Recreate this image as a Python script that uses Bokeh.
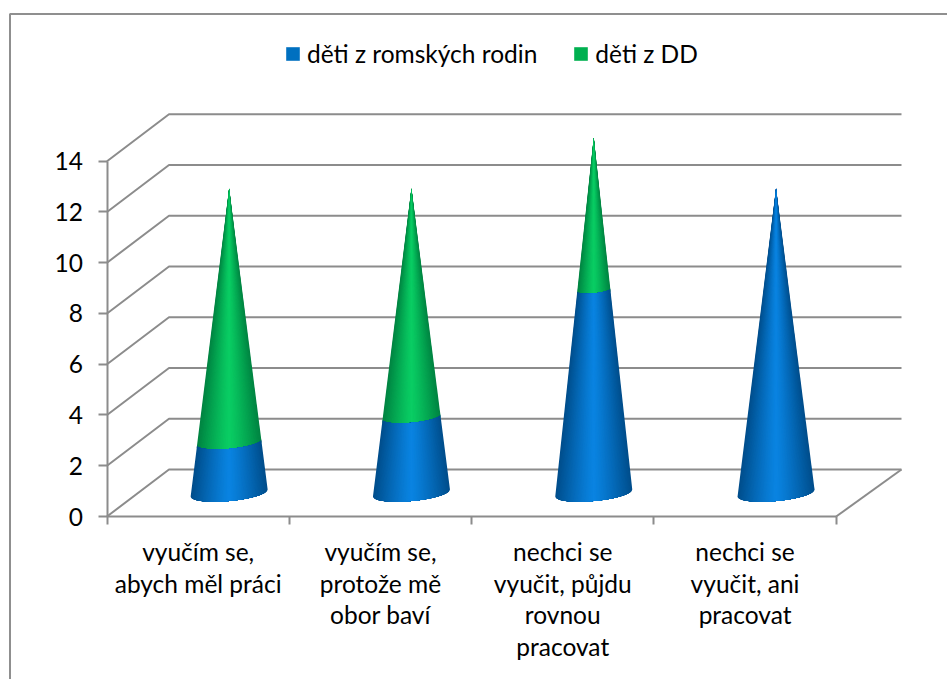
from bokeh.embed import file_html
from bokeh.models import ColumnDataSource, FixedTicker, Legend, LegendItem, LinearAxis, Range1d
from bokeh.plotting import figure
from bokeh.core.properties import value
from bokeh.resources import INLINE
import math

# Chart values
categories = [
    ["vyučím se,", "abych měl práci"],
    ["vyučím se,", "protože mě", "obor baví"],
    ["nechci se", "vyučit, půjdu", "rovnou", "pracovat"],
    ["nechci se", "vyučit, ani", "pracovat"],
]
romske = [2, 3, 8, 12]
dd = [10, 9, 6, 0]
series_names = ["děti z romských rodin", "děti z DD"]
y_ticks = [0, 2, 4, 6, 8, 10, 12, 14]

# Layout of the simulated 3D box, in page pixels
W, H = 947, 679
X0, Y0 = 106.5, 516.0      # front-left floor corner
PX_X, PX_Y = 182.3, 25.38  # pixels per category, pixels per unit of value
DEPTH_X, DEPTH_Y = 62.0, 47.0
WALL_END = 901.0
CONE_R = 38.5
CONE_B = 8.0               # vertical half-axis of the base ellipse
CONE_TILT = 0.09           # the base ellipse leans up to the right
LAYERS = 48                # nested shading layers per cone section
RIM_POINTS = 24

FONT = "Lato"
FONT_SIZE = "24.5px"
GRID = "#8c8c8c"

BLUE = ((0, 78, 140), (10, 132, 226))
GREEN = ((0, 132, 66), (10, 206, 100))
BLUE_KEY, GREEN_KEY = "#0070c0", "#00b050"


def dx(px):
    return px / PX_X


def dy(px):
    return px / PX_Y


def page_x(px):
    return (px - X0) / PX_X


def page_y(px):
    return (Y0 - px) / PX_Y


p = figure(
    width=W, height=H, output_backend="svg", toolbar_location=None,
    x_range=Range1d(page_x(0), page_x(W)), y_range=Range1d(page_y(H), page_y(0)),
    x_axis_type=None, y_axis_type=None, min_border=0,
    outline_line_color=None, background_fill_color="white",
)
p.grid.visible = False

# Outer chart border: only the top and left edges fall inside the page
p.line([page_x(9.5), page_x(9.5), page_x(W)], [page_y(H), page_y(13.5), page_y(13.5)],
       line_color="#8f8f8f", line_width=2)

# Floor and wall gridlines
depth_x, depth_y = dx(DEPTH_X), dy(DEPTH_Y)
wall_end = page_x(WALL_END)
grid_xs, grid_ys = [], []
for t in y_ticks:
    grid_xs.append([0, depth_x, wall_end])
    grid_ys.append([t, t + depth_y, t + depth_y])
n_cat = len(categories)
grid_xs.append([n_cat, wall_end])
grid_ys.append([0, depth_y])
p.multi_line(grid_xs, grid_ys, line_color=GRID, line_width=2)


def shade(colors, u):
    edge, mid = colors
    f = 1 - abs(u) ** 1.2
    return "#%02x%02x%02x" % tuple(round(e + (m - e) * f) for e, m in zip(edge, mid))


def cone_layers(center, total, low, high, colors):
    """Nested outlines of one cone section, from full width down to the middle."""
    xs, ys, fills = [], [], []

    def rim(v, angle):
        k = 1 - v / total
        u = -math.cos(angle)
        return (center + dx(CONE_R * k * u),
                v + depth_y / 2 - dy(CONE_B * k * math.sin(angle) - CONE_TILT * CONE_R * k * u))

    for i in range(LAYERS):
        width = 1 - i / LAYERS
        inset = math.acos(width)
        angles = [inset + (math.pi - 2 * inset) * j / RIM_POINTS for j in range(RIM_POINTS + 1)]
        pts = [rim(low, a) for a in angles] + [rim(high, a) for a in reversed(angles)]
        xs.append([q[0] for q in pts])
        ys.append([q[1] for q in pts])
        fills.append(shade(colors, width))
    return xs, ys, fills


for i, (a, b) in enumerate(zip(romske, dd)):
    center = i + 0.5 + depth_x / 2
    total = a + b
    # Green goes first and slightly under the blue section, so no seam shows
    for low, high, colors in ((max(a - 0.1, 0), a + b, GREEN), (0, a, BLUE)):
        if high > low and high - low > 0.1:
            xs, ys, fills = cone_layers(center, total, low, high, colors)
            p.patches(xs, ys, fill_color=fills, line_color=None)

# Axes
left = LinearAxis(fixed_location=0, ticker=FixedTicker(ticks=y_ticks), bounds=(0, 14))
left.axis_line_color = GRID
left.axis_line_width = 2
left.major_tick_line_color = GRID
left.major_tick_line_width = 2
left.major_tick_in = 0
left.major_tick_out = 9
left.minor_tick_line_color = None
left.major_label_standoff = 15
left.major_label_text_font = FONT
left.major_label_text_font_size = FONT_SIZE
left.major_label_text_color = "black"
p.add_layout(left, "left")

cat_ticks = list(range(n_cat + 1))
bottom = LinearAxis(fixed_location=0, ticker=FixedTicker(ticks=cat_ticks), bounds=(0, n_cat))
bottom.axis_line_color = GRID
bottom.axis_line_width = 2
bottom.major_tick_line_color = GRID
bottom.major_tick_line_width = 2
bottom.major_tick_in = 0
bottom.major_tick_out = 8
bottom.minor_tick_line_color = None
bottom.major_label_overrides = {t: "" for t in cat_ticks}
p.add_layout(bottom, "below")

# Category labels, one glyph row per text line
lx, ly, lt, lo = [], [], [], []
for i, lines in enumerate(categories):
    for k, line in enumerate(lines):
        lx.append(i + 0.5)
        ly.append(0)
        lt.append(line)
        lo.append(35 + 31.7 * k)
p.text(x="x", y="y", text="t", y_offset="o",
       source=ColumnDataSource(dict(x=lx, y=ly, t=lt, o=lo)),
       text_font=value(FONT), text_font_size=value(FONT_SIZE), text_color="black",
       text_align="center", text_baseline="middle")

# Legend
key_a = p.patches([[]], [[]], fill_color=BLUE_KEY, line_color=None)
key_b = p.patches([[]], [[]], fill_color=GREEN_KEY, line_color=None)
legend = Legend(
    items=[LegendItem(label=value(series_names[0]), renderers=[key_a]),
           LegendItem(label=value(series_names[1]), renderers=[key_b])],
    orientation="horizontal", location=(284, H - 68),
    background_fill_alpha=0, border_line_color=None,
    padding=0, margin=0, spacing=35, glyph_width=17, glyph_height=17, label_standoff=6,
    label_text_font=FONT, label_text_font_size=FONT_SIZE, label_text_color="black",
)
p.add_layout(legend, "center")

open("out.html", "w").write(file_html(p, INLINE))
